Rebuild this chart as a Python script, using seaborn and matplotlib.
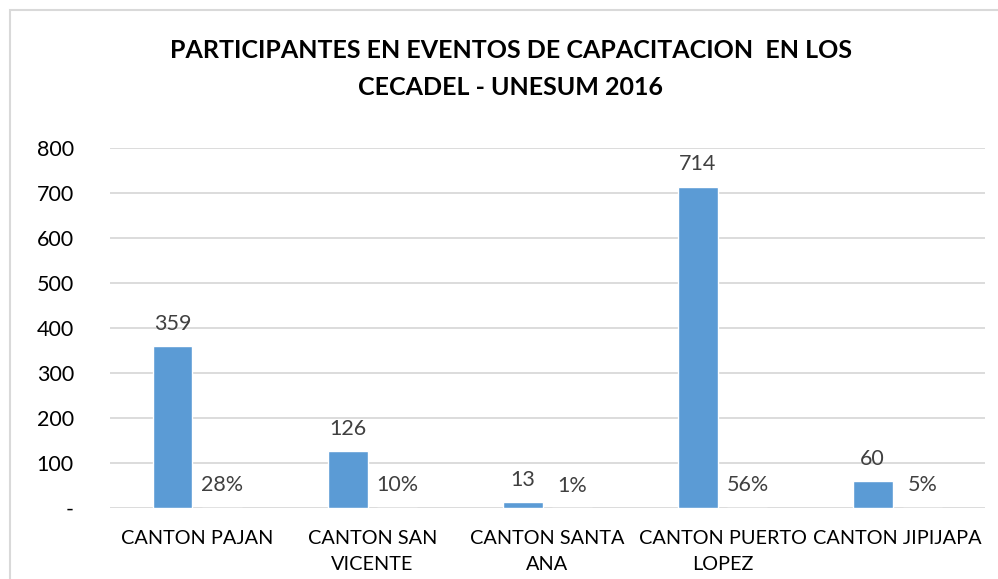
import pandas as pd
import seaborn as sns
import matplotlib.pyplot as plt
from matplotlib.patches import Rectangle

# datos del grafico
cantones = ['CANTON PAJAN', 'CANTON SAN\nVICENTE', 'CANTON SANTA\nANA',
            'CANTON PUERTO\nLOPEZ', 'CANTON JIPIJAPA']
participantes = [359, 126, 13, 714, 60]
porcentaje = [0.28, 0.10, 0.01, 0.56, 0.05]
series = ['Participantes', 'Porcentaje']
y_ticks = [0, 100, 200, 300, 400, 500, 600, 700, 800]
y_labels = ['-', '100', '200', '300', '400', '500', '600', '700', '800']

df = pd.DataFrame({
    'canton': cantones * 2,
    'valor': participantes + porcentaje,
    'serie': [series[0]] * len(cantones) + [series[1]] * len(cantones),
})

sns.set_style('white')
plt.rcParams['font.family'] = ['Lato', 'DejaVu Sans']

fig = plt.figure(figsize=(9.98, 5.79), dpi=100)
ax = fig.add_axes([0.1102, 0.1226, 0.8768, 0.6218])

sns.barplot(data=df, x='canton', y='valor', hue='serie', order=cantones,
            hue_order=series, palette=['#5B9BD5', '#ED7D31'], saturation=1,
            width=0.57, gap=0.2, legend=False, ax=ax)

ax.set_ylim(0, 800)
ax.set_yticks(y_ticks)
ax.set_yticklabels(y_labels)
ax.set_xlabel('')
ax.set_ylabel('')
ax.grid(axis='y', color='#D9D9D9', linewidth=1.3)
ax.set_axisbelow(True)
for s in ax.spines.values():
    s.set_visible(False)
ax.tick_params(axis='y', length=0, pad=26, labelsize=15.5, labelcolor='black')
ax.tick_params(axis='x', length=0, pad=15.5, labelsize=14.3, labelcolor='black')
for t in ax.get_xticklabels():
    t.set_linespacing(1.7)

# etiquetas de datos
ax.bar_label(ax.containers[0], labels=[str(v) for v in participantes],
             padding=9, fontsize=15.5, color='#404040')
ax.bar_label(ax.containers[1], labels=[f'{p:.0%}' for p in porcentaje],
             padding=9, fontsize=15.5, color='#404040')

fig.text(511 / 998, 1 - 58 / 579, 'PARTICIPANTES EN EVENTOS DE CAPACITACION  EN LOS',
         ha='center', va='baseline', fontsize=18, fontweight='bold', color='black')
fig.text(511 / 998, 1 - 95 / 579, 'CECADEL - UNESUM 2016',
         ha='center', va='baseline', fontsize=18, fontweight='bold', color='black')

# marco del area del grafico
fig.patches.append(Rectangle((10 / 998, -0.1), 1.2, 1 - 10 / 579 + 0.1,
                             transform=fig.transFigure, fill=False,
                             edgecolor='#D9D9D9', linewidth=1.5))

fig.savefig('out.png', dpi=100)
